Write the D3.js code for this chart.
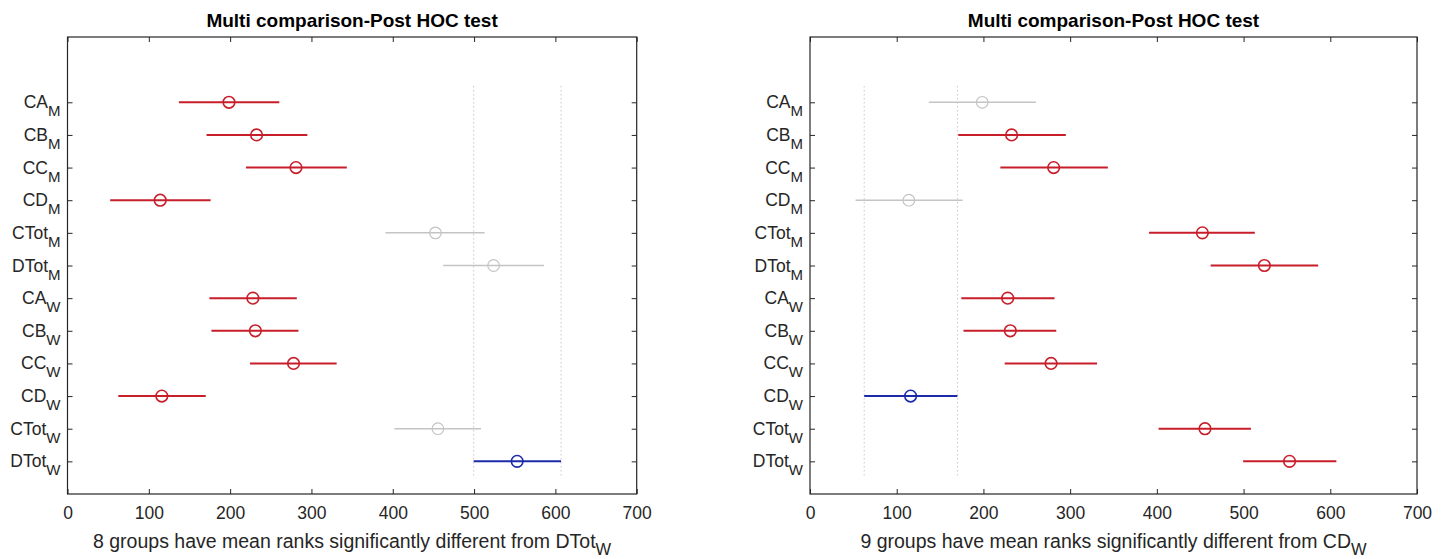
<!DOCTYPE html>
<html>
<head>
<meta charset="utf-8">
<script src="https://cdn.jsdelivr.net/npm/d3@7"></script>
<style>
  body { margin: 0; background: #fff; }
  svg { display: block; font-family: "Liberation Sans", Arial, sans-serif; }
  .tick text { fill: #262626; }
</style>
</head>
<body>
<svg id="chart" width="1450" height="559"></svg>
<script>
// group labels, top to bottom (base text + subscript)
var labelBase = ["CA", "CB", "CC", "CD", "CTot", "DTot", "CA", "CB", "CC", "CD", "CTot", "DTot"];
var labelSub  = ["M", "M", "M", "M", "M", "M", "W", "W", "W", "W", "W", "W"];

// mean ranks and comparison intervals, same order
var means = [198.6, 232.5, 281, 114, 452.5, 524, 228, 231, 278, 116, 455.5, 553];
var lower = [137, 171, 219.5, 52.5, 391, 462, 174.5, 177, 224.5, 62.5, 402, 499.5];
var upper = [260.5, 295, 343.5, 176, 513, 586, 282, 284, 331, 170, 508.5, 607];

// significance status per panel: ctrl = selected group, sig = different, ns = not different
var leftStatus  = ["sig", "sig", "sig", "sig", "ns", "ns", "sig", "sig", "sig", "sig", "ns", "ctrl"];
var rightStatus = ["ns", "sig", "sig", "ns", "sig", "sig", "sig", "sig", "sig", "ctrl", "sig", "sig"];

var xTicks = [0, 100, 200, 300, 400, 500, 600, 700];
var titleText = "Multi comparison-Post HOC test";

var colors = { sig: "#c81e2a", ns: "#c4c4c4", ctrl: "#1c2aa8" };

var svg = d3.select("#chart");

function drawPanel(left, right, status, ctrlIndex, xlabelPre, xlabelBase, xlabelSub) {
  var top = 37, bottom = 494;
  var n = labelBase.length;

  var x = d3.scaleLinear().domain([0, 700]).range([left, right]);
  var y = d3.scaleLinear().domain([0, n + 2]).range([bottom, top]);
  // group i sits at position n - i (first group on top)
  var pos = function (i) { return y(n - i); };

  var g = svg.append("g");

  // dotted reference lines at the selected group's interval bounds
  [lower[ctrlIndex], upper[ctrlIndex]].forEach(function (v) {
    g.append("line")
      .attr("x1", x(v)).attr("x2", x(v))
      .attr("y1", y(n + 0.5)).attr("y2", y(0.5))
      .attr("stroke", "#c8c8c8")
      .attr("stroke-width", 1)
      .attr("stroke-dasharray", "1.5,2.5");
  });

  // axes (inward ticks, box drawn separately)
  var xb = g.append("g").attr("transform", "translate(0," + bottom + ")")
    .call(d3.axisBottom(x).tickValues(xTicks).tickSizeInner(-5).tickSizeOuter(0).tickPadding(13));
  var xt = g.append("g").attr("transform", "translate(0," + top + ")")
    .call(d3.axisTop(x).tickValues(xTicks).tickSizeInner(-5).tickSizeOuter(0).tickFormat(""));
  var yr = g.append("g").attr("transform", "translate(" + right + ",0)")
    .call(d3.axisRight(y).tickValues(d3.range(1, n + 1)).tickSizeInner(-5).tickSizeOuter(0).tickFormat(""));
  var yl = g.append("g").attr("transform", "translate(" + left + ",0)")
    .call(d3.axisLeft(y).tickValues(d3.range(1, n + 1)).tickSizeInner(-5).tickSizeOuter(0).tickFormat(""));

  [xb, xt, yr, yl].forEach(function (a) {
    a.select(".domain").remove();
    a.selectAll(".tick line").attr("stroke", "#262626");
  });
  xb.selectAll(".tick text").attr("font-size", 17.5).attr("font-family", "Liberation Sans, Arial, sans-serif");

  g.append("rect")
    .attr("x", left).attr("y", top)
    .attr("width", right - left).attr("height", bottom - top)
    .attr("fill", "none").attr("stroke", "#262626").attr("stroke-width", 1.2);

  // y tick labels with subscript
  var labels = g.selectAll("text.ylab").data(labelBase).enter().append("text")
    .attr("class", "ylab")
    .attr("x", left - 7)
    .attr("y", function (d, i) { return pos(i) + 6; })
    .attr("text-anchor", "end")
    .attr("font-size", 17.5)
    .attr("fill", "#262626");
  labels.append("tspan").text(function (d) { return d; });
  labels.append("tspan").attr("dy", 8).attr("font-size", 15)
    .text(function (d, i) { return labelSub[i]; });

  // interval lines
  g.selectAll("line.ci").data(means).enter().append("line")
    .attr("class", "ci")
    .attr("x1", function (d, i) { return x(lower[i]); })
    .attr("x2", function (d, i) { return x(upper[i]); })
    .attr("y1", function (d, i) { return pos(i); })
    .attr("y2", function (d, i) { return pos(i); })
    .attr("stroke", function (d, i) { return colors[status[i]]; })
    .attr("stroke-width", function (d, i) { return status[i] === "ns" ? 1.5 : 2; });

  // mean markers
  g.selectAll("circle.mean").data(means).enter().append("circle")
    .attr("class", "mean")
    .attr("cx", function (d) { return x(d); })
    .attr("cy", function (d, i) { return pos(i); })
    .attr("r", 5.8)
    .attr("fill", "none")
    .attr("stroke", function (d, i) { return colors[status[i]]; })
    .attr("stroke-width", function (d, i) { return status[i] === "ns" ? 1.2 : 1.6; });

  // title
  g.append("text")
    .attr("x", (left + right) / 2).attr("y", 27)
    .attr("text-anchor", "middle")
    .attr("font-size", 19).attr("font-weight", "bold")
    .attr("fill", "#000")
    .text(titleText);

  // x label
  var xl = g.append("text")
    .attr("x", (left + right) / 2).attr("y", 548)
    .attr("text-anchor", "middle")
    .attr("font-size", 19.5)
    .attr("fill", "#262626");
  xl.append("tspan").text(xlabelPre + xlabelBase);
  xl.append("tspan").attr("dy", 7).attr("font-size", 16.5).text(xlabelSub);
}

drawPanel(67.5, 636.7, leftStatus, 11, "8 groups have mean ranks significantly different from ", "DTot", "W");
drawPanel(810, 1417, rightStatus, 9, "9 groups have mean ranks significantly different from ", "CD", "W");
</script>
</body>
</html>
